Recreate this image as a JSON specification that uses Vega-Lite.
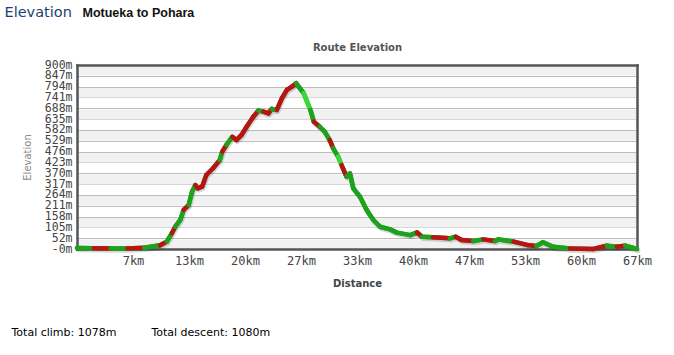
{
  "$schema": "https://vega.github.io/schema/vega-lite/v6.json",
  "width": 560,
  "height": 184,
  "autosize": {"type": "none"},
  "padding": {"left": 77, "top": 65, "right": 37, "bottom": 106},
  "background": "#ffffff",
  "config": {"view": {"stroke": null}},
  "data": {"values": [
    {"d": 0, "e": 5, "c": "g"},
    {"d": 2, "e": 4, "c": "r"},
    {"d": 4, "e": 2, "c": "g"},
    {"d": 6, "e": 3, "c": "r"},
    {"d": 8, "e": 6, "c": "g"},
    {"d": 9.9, "e": 18, "c": "r"},
    {"d": 10.7, "e": 36, "c": "g"},
    {"d": 11.3, "e": 77, "c": "r"},
    {"d": 11.7, "e": 109, "c": "g"},
    {"d": 12.3, "e": 142, "c": "g"},
    {"d": 12.7, "e": 191, "c": "r"},
    {"d": 13.3, "e": 215, "c": "g"},
    {"d": 13.7, "e": 280, "c": "g"},
    {"d": 14.1, "e": 313, "c": "r"},
    {"d": 14.4, "e": 297, "c": "r"},
    {"d": 14.9, "e": 305, "c": "r"},
    {"d": 15.4, "e": 362, "c": "r"},
    {"d": 16.2, "e": 395, "c": "r"},
    {"d": 17.0, "e": 435, "c": "g"},
    {"d": 17.3, "e": 476, "c": "r"},
    {"d": 17.8, "e": 509, "c": "g"},
    {"d": 18.5, "e": 549, "c": "r"},
    {"d": 19.0, "e": 533, "c": "r"},
    {"d": 19.6, "e": 558, "c": "r"},
    {"d": 20.2, "e": 598, "c": "r"},
    {"d": 21.0, "e": 647, "c": "r"},
    {"d": 21.6, "e": 677, "c": "g"},
    {"d": 22.2, "e": 672, "c": "r"},
    {"d": 22.8, "e": 664, "c": "r"},
    {"d": 23.2, "e": 685, "c": "g"},
    {"d": 23.8, "e": 680, "c": "r"},
    {"d": 24.4, "e": 737, "c": "r"},
    {"d": 25.0, "e": 778, "c": "r"},
    {"d": 25.6, "e": 794, "c": "r"},
    {"d": 26.1, "e": 811, "c": "g"},
    {"d": 26.4, "e": 794, "c": "g"},
    {"d": 27.0, "e": 762, "c": "lg"},
    {"d": 27.4, "e": 721, "c": "lg"},
    {"d": 27.8, "e": 680, "c": "g"},
    {"d": 28.2, "e": 623, "c": "r"},
    {"d": 28.9, "e": 598, "c": "g"},
    {"d": 29.5, "e": 574, "c": "g"},
    {"d": 30.1, "e": 533, "c": "r"},
    {"d": 30.5, "e": 493, "c": "g"},
    {"d": 31.1, "e": 452, "c": "lg"},
    {"d": 31.5, "e": 411, "c": "r"},
    {"d": 32.1, "e": 354, "c": "g"},
    {"d": 32.5, "e": 370, "c": "g"},
    {"d": 32.9, "e": 297, "c": "g"},
    {"d": 33.7, "e": 256, "c": "g"},
    {"d": 34.5, "e": 191, "c": "g"},
    {"d": 35.3, "e": 142, "c": "g"},
    {"d": 36.1, "e": 109, "c": "g"},
    {"d": 37.3, "e": 96, "c": "g"},
    {"d": 38.1, "e": 80, "c": "g"},
    {"d": 39.7, "e": 68, "c": "g"},
    {"d": 40.5, "e": 81, "c": "r"},
    {"d": 41.1, "e": 60, "c": "g"},
    {"d": 42.4, "e": 57, "c": "r"},
    {"d": 44.4, "e": 52, "c": "g"},
    {"d": 45.1, "e": 60, "c": "r"},
    {"d": 45.8, "e": 44, "c": "r"},
    {"d": 47.2, "e": 39, "c": "g"},
    {"d": 48.4, "e": 47, "c": "r"},
    {"d": 49.8, "e": 39, "c": "g"},
    {"d": 50.2, "e": 47, "c": "g"},
    {"d": 52.0, "e": 36, "c": "r"},
    {"d": 53.6, "e": 20, "c": "r"},
    {"d": 54.7, "e": 15, "c": "g"},
    {"d": 55.5, "e": 33, "c": "g"},
    {"d": 56.7, "e": 11, "c": "g"},
    {"d": 58.7, "e": 3, "c": "r"},
    {"d": 61.5, "e": 0, "c": "r"},
    {"d": 63.1, "e": 16, "c": "g"},
    {"d": 64.3, "e": 11, "c": "r"},
    {"d": 65.3, "e": 16, "c": "g"},
    {"d": 66.7, "e": 0, "c": "g"}
  ]},
  "layer": [
    {
      "mark": {"type": "line", "color": "#000000", "opacity": 0.16, "strokeWidth": 4.5, "xOffset": 1, "yOffset": 2, "strokeCap": "round", "strokeJoin": "round"},
      "encoding": {
        "x": {
          "field": "d", "type": "quantitative",
          "scale": {"domain": [0, 66.7], "nice": false, "zero": false},
          "axis": {
            "orient": "bottom",
            "values": [6.67, 13.34, 20.01, 26.68, 33.35, 40.02, 46.69, 53.36, 60.03, 66.7],
            "labelExpr": "round(datum.value) + 'km'",
            "labelFont": "DejaVu Sans Mono", "labelFontSize": 12, "labelColor": "#444444",
            "labelPadding": 6, "labelFlush": false, "labelOverlap": false,
            "ticks": false, "domain": false, "grid": false,
            "title": "Distance", "titleFont": "DejaVu Sans", "titleFontSize": 10, "titleFontWeight": "bold", "titleColor": "#444444",
            "titleX": 280, "titleY": 34, "titleAlign": "center", "titleBaseline": "middle", "titleAngle": 0
          }
        },
        "y": {
          "field": "e", "type": "quantitative",
          "scale": {"domain": [0, 900], "nice": false},
          "axis": {
            "orient": "left",
            "values": [0, 26.470588, 52.941176, 79.411765, 105.882353, 132.352941, 158.823529, 185.294118, 211.764706, 238.235294, 264.705882, 291.176471, 317.647059, 344.117647, 370.588235, 397.058824, 423.529412, 450, 476.470588, 502.941176, 529.411765, 555.882353, 582.352941, 608.823529, 635.294118, 661.764706, 688.235294, 714.705882, 741.176471, 767.647059, 794.117647, 820.588235, 847.058824, 873.529412, 900],
            "labelExpr": "round(datum.value / 26.470588) % 2 == 1 ? '' : (datum.value == 0 ? '-0m' : floor(datum.value + 0.001) + 'm')",
            "labelFont": "DejaVu Sans Mono", "labelFontSize": 11.5, "labelColor": "#444444",
            "labelPadding": 5, "labelBaseline": "middle", "labelFlush": false, "labelOverlap": false,
            "ticks": false, "domain": false, "grid": true,
            "gridColor": {"condition": {"test": "round(datum.value / 26.470588) % 2 == 1", "value": "#f1f1f1"}, "value": "#bdbdbd"},
            "gridWidth": {"condition": {"test": "round(datum.value / 26.470588) % 2 == 1", "value": 9.8}, "value": 1},
            "gridOpacity": {"condition": {"test": "round(datum.value / 26.470588) % 4 == 3", "value": 0}, "value": 1},
            "title": "Elevation", "titleFont": "DejaVu Sans", "titleFontSize": 10, "titleFontWeight": "normal", "titleColor": "#888888",
            "titleX": -49.5, "titleY": 92, "titleAngle": -90, "titleAlign": "center", "titleBaseline": "middle"
          }
        }
      }
    },
    {
      "mark": {"type": "line", "color": "#1ea21e", "strokeWidth": 4.5, "strokeCap": "round", "strokeJoin": "round"},
      "encoding": {
        "x": {
          "field": "d", "type": "quantitative",
          "scale": {"domain": [0, 66.7], "nice": false, "zero": false},
          "axis": {
            "orient": "top", "labels": false, "ticks": false, "grid": false,
            "domain": true, "domainColor": "#555555", "domainWidth": 2.5, "domainCap": "square",
            "title": "Route Elevation", "titleFont": "DejaVu Sans", "titleFontSize": 10, "titleFontWeight": "bold", "titleColor": "#555555",
            "titleX": 280, "titleY": -18, "titleAlign": "center", "titleBaseline": "middle", "titleAngle": 0
          }
        },
        "y": {
          "field": "e", "type": "quantitative",
          "scale": {"domain": [0, 900], "nice": false},
          "axis": {
            "orient": "right", "labels": false, "ticks": false, "grid": false,
            "domain": true, "domainColor": "#555555", "domainWidth": 2.5, "domainCap": "square",
            "title": "Elevation", "titleFont": "DejaVu Sans", "titleFontSize": 14.5, "titleFontWeight": "normal", "titleColor": "#1c3f73",
            "titleX": -633, "titleY": -53, "titleAngle": 0, "titleAlign": "left", "titleBaseline": "middle"
          }
        }
      }
    },
    {
      "transform": [
        {"window": [{"op": "lead", "field": "d", "as": "d2"}, {"op": "lead", "field": "e", "as": "e2"}], "sort": [{"field": "d"}]},
        {"filter": "isValid(datum.d2)"}
      ],
      "mark": {"type": "rule", "strokeWidth": 4.5, "strokeCap": "round"},
      "encoding": {
        "x": {
          "field": "d", "type": "quantitative",
          "scale": {"domain": [0, 66.7], "nice": false, "zero": false},
          "axis": {
            "orient": "bottom", "labels": false, "ticks": false, "grid": false,
            "domain": true, "domainColor": "#555555", "domainWidth": 2.5, "domainCap": "square",
            "title": "Total climb: 1078m\u00a0\u00a0\u00a0\u00a0\u00a0\u00a0\u00a0\u00a0\u00a0\u00a0Total descent: 1080m",
            "titleFont": "DejaVu Sans", "titleFontSize": 11, "titleFontWeight": "normal", "titleColor": "#000000",
            "titleX": -66, "titleY": 83, "titleAlign": "left", "titleBaseline": "middle", "titleAngle": 0
          }
        },
        "x2": {"field": "d2"},
        "y": {
          "field": "e", "type": "quantitative",
          "scale": {"domain": [0, 900], "nice": false},
          "axis": {
            "orient": "left", "labels": false, "ticks": false, "grid": false,
            "domain": true, "domainColor": "#555555", "domainWidth": 2.5, "domainCap": "square",
            "title": "Motueka to Pohara", "titleFont": "Liberation Sans Narrow, Liberation Sans", "titleFontSize": 12.5, "titleFontWeight": "bold", "titleColor": "#111111",
            "titleX": 5, "titleY": -53, "titleAngle": 0, "titleAlign": "left", "titleBaseline": "middle"
          }
        },
        "y2": {"field": "e2"},
        "color": {
          "field": "c", "type": "nominal",
          "scale": {"domain": ["g", "r", "lg"], "range": ["#1ea21e", "#b81414", "#3ad93a"]},
          "legend": null
        }
      }
    }
  ],
  "resolve": {"axis": {"x": "independent", "y": "independent"}}
}
